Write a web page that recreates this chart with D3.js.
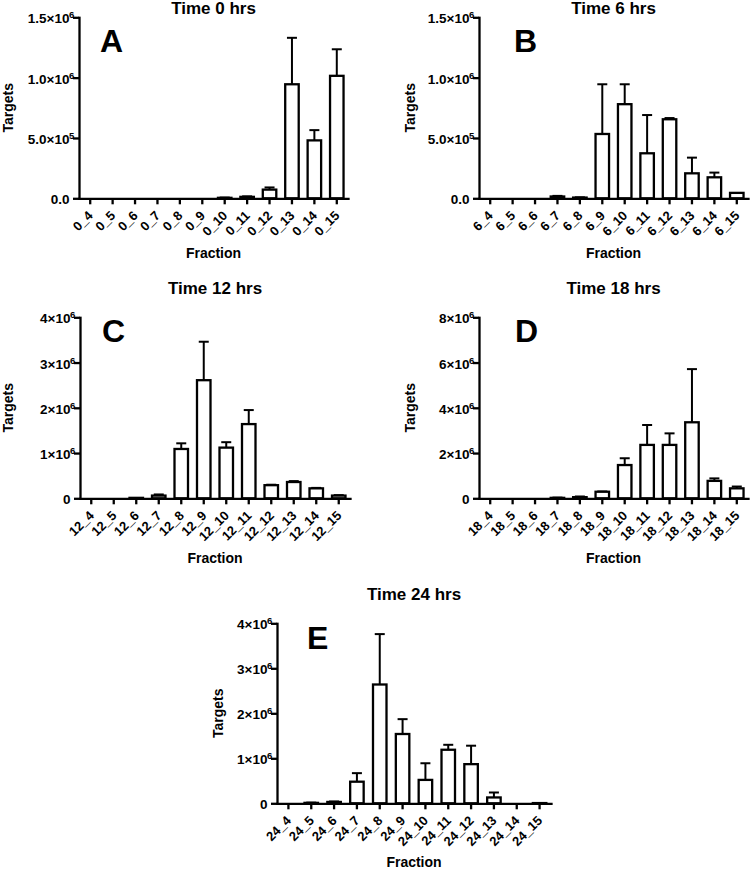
<!DOCTYPE html>
<html><head><meta charset="utf-8">
<script src="https://cdn.jsdelivr.net/npm/d3@7"></script>
<style>
body{margin:0;background:#fff}
svg{display:block}
text{font-family:"Liberation Sans",Arial,Helvetica,sans-serif;font-weight:bold;fill:#000}
</style>
</head><body><svg id="c" width="750" height="869"></svg>
<script>
// ---------- data ----------
const categoriesA = ["0_4","0_5","0_6","0_7","0_8","0_9","0_10","0_11","0_12","0_13","0_14","0_15"];
const valuesA = [0,0,0,0,0,0,4e3,12e3,72e3,945e3,480e3,1015e3];
const errTopA = [0,0,0,0,0,0,6e3,16e3,90e3,1330e3,565e3,1235e3];

const categoriesB = ["6_4","6_5","6_6","6_7","6_8","6_9","6_10","6_11","6_12","6_13","6_14","6_15"];
const valuesB = [0,0,0,15e3,6e3,533e3,780e3,373e3,655e3,207e3,174e3,45e3];
const errTopB = [0,0,0,20e3,8e3,945e3,945e3,690e3,665e3,337e3,213e3,45e3];

const categoriesC = ["12_4","12_5","12_6","12_7","12_8","12_9","12_10","12_11","12_12","12_13","12_14","12_15"];
const valuesC = [0,0,10e3,60e3,1.09e6,2.61e6,1.12e6,1.64e6,0.29e6,0.36e6,0.22e6,0.06e6];
const errTopC = [0,0,10e3,85e3,1.215e6,3.46e6,1.24e6,1.95e6,0.30e6,0.38e6,0.23e6,0.07e6];

const categoriesD = ["18_4","18_5","18_6","18_7","18_8","18_9","18_10","18_11","18_12","18_13","18_14","18_15"];
const valuesD = [0,0,0,20e3,50e3,0.29e6,1.47e6,2.36e6,2.36e6,3.36e6,0.77e6,0.44e6];
const errTopD = [0,0,0,30e3,80e3,0.30e6,1.77e6,3.24e6,2.87e6,5.71e6,0.88e6,0.52e6];

const categoriesE = ["24_4","24_5","24_6","24_7","24_8","24_9","24_10","24_11","24_12","24_13","24_14","24_15"];
const valuesE = [0,10e3,30e3,0.48e6,2.64e6,1.54e6,0.52e6,1.19e6,0.87e6,0.13e6,0,5e3];
const errTopE = [0,15e3,40e3,0.67e6,3.76e6,1.87e6,0.89e6,1.30e6,1.28e6,0.24e6,0,5e3];

const tickValsAB = [0, 5e5, 1e6, 1.5e6];
const tickMantAB = ["0.0","5.0×10","1.0×10","1.5×10"];
const tickExpAB  = ["","5","6","6"];
const tickValsCE = [0, 1e6, 2e6, 3e6, 4e6];
const tickMantCE = ["0","1×10","2×10","3×10","4×10"];
const tickExpCE  = ["","6","6","6","6"];
const tickValsD = [0, 2e6, 4e6, 6e6, 8e6];
const tickMantD = ["0","2×10","4×10","6×10","8×10"];
const tickExpD  = ["","6","6","6","6"];

const titles = ["Time 0 hrs","Time 6 hrs","Time 12 hrs","Time 18 hrs","Time 24 hrs"];
const letters = ["A","B","C","D","E"];

// ---------- layout ----------
const panels = [
  {cats:categoriesA, vals:valuesA, errs:errTopA, max:1.5e6, tv:tickValsAB, tm:tickMantAB, te:tickExpAB,
   x0:79, x1:348, yTop:17.3, yZero:198.3, titleY:14, letterX:100, letterY:52, ylabX:13, fracY:258},
  {cats:categoriesB, vals:valuesB, errs:errTopB, max:1.5e6, tv:tickValsAB, tm:tickMantAB, te:tickExpAB,
   x0:479, x1:748, yTop:17.3, yZero:198.3, titleY:14, letterX:514, letterY:52, ylabX:415, fracY:258},
  {cats:categoriesC, vals:valuesC, errs:errTopC, max:4e6, tv:tickValsCE, tm:tickMantCE, te:tickExpCE,
   x0:80, x1:350, yTop:317.3, yZero:498.3, titleY:294, letterX:102, letterY:342, ylabX:13, fracY:563},
  {cats:categoriesD, vals:valuesD, errs:errTopD, max:8e6, tv:tickValsD, tm:tickMantD, te:tickExpD,
   x0:479, x1:748, yTop:317.3, yZero:498.3, titleY:294, letterX:515, letterY:342, ylabX:415, fracY:563},
  {cats:categoriesE, vals:valuesE, errs:errTopE, max:4e6, tv:tickValsCE, tm:tickMantCE, te:tickExpCE,
   x0:277, x1:551, yTop:623.3, yZero:803.3, titleY:600, letterX:307, letterY:649, ylabX:223, fracY:867}
];

const svg = d3.select("#c");
const SW = 2.3;

panels.forEach((p, i) => {
  const g = svg.append("g");
  const x = d3.scaleBand().domain(p.cats).range([p.x0, p.x1]).paddingInner(0).paddingOuter(0);
  const y = d3.scaleLinear().domain([0, p.max]).range([p.yZero, p.yTop]);
  const bw = 13.5;
  const data = p.cats.map((c, k) => ({c, v:p.vals[k], e:p.errs[k]}));

  // error bars
  const eb = g.append("g").attr("stroke","#000").attr("stroke-width",2);
  data.filter(d => d.e > d.v).forEach(d => {
    const cx = x(d.c) + x.bandwidth()/2;
    eb.append("line").attr("x1",cx).attr("x2",cx).attr("y1",y(d.v)).attr("y2",y(d.e));
    eb.append("line").attr("x1",cx-5).attr("x2",cx+5).attr("y1",y(d.e)).attr("y2",y(d.e));
  });

  // bars
  g.append("g").selectAll("rect").data(data).join("rect")
    .attr("x", d => x(d.c) + x.bandwidth()/2 - bw/2)
    .attr("width", bw)
    .attr("y", d => y(d.v))
    .attr("height", d => p.yZero - y(d.v))
    .attr("fill","#fff").attr("stroke","#000").attr("stroke-width",SW);

  // y axis
  const ya = g.append("g").attr("transform",`translate(${p.x0},0)`)
    .call(d3.axisLeft(y).tickValues(p.tv).tickSize(6).tickSizeOuter(0).tickFormat(""));
  ya.select(".domain").attr("stroke-width",SW).attr("stroke-linecap","square");
  ya.selectAll(".tick line").attr("stroke-width",SW);
  ya.selectAll(".tick text").remove();
  ya.selectAll(".tick").each(function(v, k){
    const t = d3.select(this);
    t.append("text").attr("x",-9.5).attr("y",5.5).attr("text-anchor","end")
      .style("font-size","13.5px").text(p.tm[k]);
    if (p.te[k]) t.append("text").attr("x",-10).attr("y",0.5).attr("text-anchor","start")
      .style("font-size","9.5px").text(p.te[k]);
  });

  // x axis
  const xa = g.append("g").attr("transform",`translate(0,${p.yZero})`)
    .call(d3.axisBottom(x).tickSize(6).tickSizeOuter(0));
  xa.select(".domain").attr("stroke-width",SW).attr("stroke-linecap","square");
  xa.selectAll(".tick line").attr("stroke-width",SW);
  xa.selectAll(".tick text")
    .attr("x",0).attr("y",0).attr("dy",null)
    .attr("transform","translate(3.5,18) rotate(-45)")
    .attr("text-anchor","end")
    .style("font-size","13px").style("font-family",'"Liberation Sans",Arial,sans-serif').style("font-weight","bold");

  const cxp = (p.x0 + p.x1)/2;
  g.append("text").attr("x",cxp).attr("y",p.titleY).attr("text-anchor","middle")
    .style("font-size","17px").text(titles[i]);
  g.append("text").attr("x",p.letterX).attr("y",p.letterY)
    .style("font-size","32px").text(letters[i]);
  g.append("text").attr("transform",`translate(${p.ylabX},${(p.yTop+p.yZero)/2}) rotate(-90)`)
    .attr("text-anchor","middle").style("font-size","14px").text("Targets");
  g.append("text").attr("x",cxp).attr("y",p.fracY).attr("text-anchor","middle")
    .style("font-size","14px").text("Fraction");
});
</script></body></html>
